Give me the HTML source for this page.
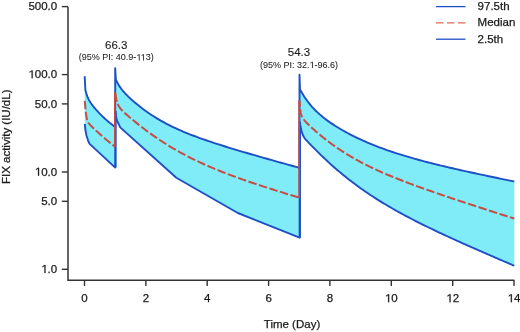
<!DOCTYPE html>
<html><head><meta charset="utf-8"><style>
html,body{margin:0;padding:0;background:#fff;}
body{width:520px;height:332px;overflow:hidden;}
svg{display:block;will-change:transform;}
text{font-family:"Liberation Sans",sans-serif;font-size:11.5px;fill:#1a1a1a;stroke:#1a1a1a;stroke-width:0.25px;}
.o{fill:transparent;stroke:none;}
</style></head><body>
<svg width="520" height="332" viewBox="0 0 520 332">
<rect width="520" height="332" fill="#fff"/>
<polygon points="84.70,76.20 85.40,89.99 85.70,91.21 86.00,92.33 86.30,93.36 86.60,94.31 86.90,95.20 87.20,96.02 87.50,96.79 87.80,97.51 88.10,98.18 88.40,98.82 88.70,99.42 89.70,101.24 90.70,102.83 91.70,104.27 92.70,105.61 93.70,106.87 94.70,108.08 95.70,109.25 96.70,110.38 97.70,111.47 98.70,112.54 99.70,113.58 100.70,114.60 101.70,115.60 102.70,116.57 103.70,117.52 104.70,118.45 105.70,119.36 108.20,121.54 110.70,123.61 113.20,125.56 115.20,127.06 115.20,167.60 89.60,143.90 88.40,141.50 86.60,136.00 85.40,130.00 84.80,124.00" fill="#7fecf8" stroke="none"/><polygon points="115.20,68.10 115.80,79.16 116.10,79.87 116.40,80.55 116.70,81.21 117.00,81.83 117.30,82.44 117.60,83.02 117.90,83.58 118.20,84.12 118.50,84.64 118.80,85.14 119.10,85.63 120.10,87.15 121.10,88.55 122.10,89.84 123.10,91.05 124.10,92.20 125.10,93.30 126.10,94.35 127.10,95.37 128.10,96.36 129.10,97.33 130.10,98.27 131.10,99.19 132.10,100.09 133.10,100.98 134.10,101.85 135.10,102.71 136.10,103.55 138.60,105.59 141.10,107.56 143.60,109.45 146.10,111.27 148.60,113.01 151.10,114.69 153.60,116.31 156.10,117.87 158.60,119.37 161.10,120.81 163.60,122.20 166.10,123.54 168.60,124.83 171.10,126.08 173.60,127.29 176.10,128.46 178.60,129.59 181.10,130.69 183.60,131.76 186.10,132.80 188.60,133.81 191.10,134.80 193.60,135.76 196.10,136.70 198.60,137.62 201.10,138.52 203.60,139.40 206.10,140.27 208.60,141.12 211.10,141.96 213.60,142.79 216.10,143.61 218.60,144.41 221.10,145.21 223.60,145.99 226.10,146.77 228.60,147.54 231.10,148.31 233.60,149.06 236.10,149.81 238.60,150.56 241.10,151.30 243.60,152.04 246.10,152.77 248.60,153.50 251.10,154.22 253.60,154.95 256.10,155.66 258.60,156.38 261.10,157.10 263.60,157.81 266.10,158.52 268.60,159.22 271.10,159.93 273.60,160.63 276.10,161.34 278.60,162.04 281.10,162.74 283.60,163.44 286.10,164.14 288.60,164.83 291.10,165.53 293.60,166.23 296.10,166.92 298.60,167.62 299.50,167.86 299.60,237.70 237.80,213.00 176.30,177.80 120.20,127.40 117.20,120.80 116.50,118.80 115.80,115.50 115.20,111.00" fill="#7fecf8" stroke="none"/><polygon points="299.50,74.80 300.00,89.30 300.30,89.85 300.60,90.40 300.90,90.94 301.20,91.48 301.50,92.01 301.80,92.53 302.10,93.04 302.40,93.55 302.70,94.05 303.00,94.54 304.00,96.14 305.00,97.67 306.00,99.13 307.00,100.54 308.00,101.88 309.00,103.17 310.00,104.42 311.00,105.61 312.00,106.76 313.00,107.87 314.00,108.93 315.00,109.97 316.00,110.96 317.00,111.93 318.00,112.87 319.00,113.78 320.00,114.66 322.50,116.77 325.00,118.75 327.50,120.62 330.00,122.40 332.50,124.09 335.00,125.72 337.50,127.28 340.00,128.78 342.50,130.23 345.00,131.64 347.50,133.00 350.00,134.32 352.50,135.59 355.00,136.84 357.50,138.04 360.00,139.22 362.50,140.36 365.00,141.47 367.50,142.55 370.00,143.60 372.50,144.63 375.00,145.63 377.50,146.60 380.00,147.55 382.50,148.48 385.00,149.38 387.50,150.27 390.00,151.13 392.50,151.98 395.00,152.81 397.50,153.62 400.00,154.41 402.50,155.18 405.00,155.94 407.50,156.69 410.00,157.42 412.50,158.14 415.00,158.85 417.50,159.54 420.00,160.23 422.50,160.90 425.00,161.56 427.50,162.21 430.00,162.85 432.50,163.49 435.00,164.11 437.50,164.73 440.00,165.34 442.50,165.95 445.00,166.54 447.50,167.13 450.00,167.72 452.50,168.30 455.00,168.87 457.50,169.44 460.00,170.01 462.50,170.56 465.00,171.12 467.50,171.67 470.00,172.22 472.50,172.76 475.00,173.30 477.50,173.84 480.00,174.38 482.50,174.91 485.00,175.44 487.50,175.96 490.00,176.49 492.50,177.01 495.00,177.53 497.50,178.05 500.00,178.56 502.50,179.08 505.00,179.59 507.50,180.10 510.00,180.61 512.50,181.12 514.30,181.49 514.30,265.75 513.20,265.28 511.20,264.43 509.20,263.57 507.20,262.72 505.20,261.86 503.20,261.00 501.20,260.14 499.20,259.28 497.20,258.42 495.20,257.55 493.20,256.69 491.20,255.82 489.20,254.96 487.20,254.09 485.20,253.22 483.20,252.35 481.20,251.47 479.20,250.60 477.20,249.72 475.20,248.84 473.20,247.96 471.20,247.07 469.20,246.19 467.20,245.30 465.20,244.41 463.20,243.51 461.20,242.62 459.20,241.72 457.20,240.82 455.20,239.91 453.20,239.00 451.20,238.09 449.20,237.17 447.20,236.25 445.20,235.32 443.20,234.39 441.20,233.46 439.20,232.52 437.20,231.58 435.20,230.63 433.20,229.67 431.20,228.71 429.20,227.75 427.20,226.77 425.20,225.80 423.20,224.81 421.20,223.82 419.20,222.82 417.20,221.81 415.20,220.79 413.20,219.76 411.20,218.73 409.20,217.69 407.20,216.63 405.20,215.57 403.20,214.49 401.20,213.41 399.20,212.31 397.20,211.21 395.20,210.08 393.20,208.95 391.20,207.80 389.20,206.64 387.20,205.47 385.20,204.28 383.20,203.08 381.20,201.85 379.20,200.62 377.20,199.36 375.20,198.09 373.20,196.80 371.20,195.50 369.20,194.17 367.20,192.82 365.20,191.46 363.20,190.07 361.20,188.66 359.20,187.23 357.20,185.78 355.20,184.30 353.20,182.80 351.20,181.28 349.20,179.74 347.20,178.17 345.20,176.57 343.20,174.95 341.20,173.30 339.20,171.63 337.20,169.93 335.20,168.21 333.20,166.45 331.20,164.67 329.20,162.87 327.20,161.03 325.20,159.17 323.20,157.28 321.20,155.36 319.20,153.42 317.20,151.45 315.20,149.45 313.20,147.42 311.20,145.37 309.20,143.29 307.20,141.18 305.20,139.04 304.20,137.60 303.00,135.30 301.60,131.70 300.40,125.70 299.60,122.00" fill="#7fecf8" stroke="none"/>
<polyline points="84.70,76.20 85.40,89.99 85.70,91.21 86.00,92.33 86.30,93.36 86.60,94.31 86.90,95.20 87.20,96.02 87.50,96.79 87.80,97.51 88.10,98.18 88.40,98.82 88.70,99.42 89.70,101.24 90.70,102.83 91.70,104.27 92.70,105.61 93.70,106.87 94.70,108.08 95.70,109.25 96.70,110.38 97.70,111.47 98.70,112.54 99.70,113.58 100.70,114.60 101.70,115.60 102.70,116.57 103.70,117.52 104.70,118.45 105.70,119.36 108.20,121.54 110.70,123.61 113.20,125.56 115.20,127.06 115.20,68.10 115.80,79.16 116.10,79.87 116.40,80.55 116.70,81.21 117.00,81.83 117.30,82.44 117.60,83.02 117.90,83.58 118.20,84.12 118.50,84.64 118.80,85.14 119.10,85.63 120.10,87.15 121.10,88.55 122.10,89.84 123.10,91.05 124.10,92.20 125.10,93.30 126.10,94.35 127.10,95.37 128.10,96.36 129.10,97.33 130.10,98.27 131.10,99.19 132.10,100.09 133.10,100.98 134.10,101.85 135.10,102.71 136.10,103.55 138.60,105.59 141.10,107.56 143.60,109.45 146.10,111.27 148.60,113.01 151.10,114.69 153.60,116.31 156.10,117.87 158.60,119.37 161.10,120.81 163.60,122.20 166.10,123.54 168.60,124.83 171.10,126.08 173.60,127.29 176.10,128.46 178.60,129.59 181.10,130.69 183.60,131.76 186.10,132.80 188.60,133.81 191.10,134.80 193.60,135.76 196.10,136.70 198.60,137.62 201.10,138.52 203.60,139.40 206.10,140.27 208.60,141.12 211.10,141.96 213.60,142.79 216.10,143.61 218.60,144.41 221.10,145.21 223.60,145.99 226.10,146.77 228.60,147.54 231.10,148.31 233.60,149.06 236.10,149.81 238.60,150.56 241.10,151.30 243.60,152.04 246.10,152.77 248.60,153.50 251.10,154.22 253.60,154.95 256.10,155.66 258.60,156.38 261.10,157.10 263.60,157.81 266.10,158.52 268.60,159.22 271.10,159.93 273.60,160.63 276.10,161.34 278.60,162.04 281.10,162.74 283.60,163.44 286.10,164.14 288.60,164.83 291.10,165.53 293.60,166.23 296.10,166.92 298.60,167.62 299.50,167.86 299.50,74.80 300.00,89.30 300.30,89.85 300.60,90.40 300.90,90.94 301.20,91.48 301.50,92.01 301.80,92.53 302.10,93.04 302.40,93.55 302.70,94.05 303.00,94.54 304.00,96.14 305.00,97.67 306.00,99.13 307.00,100.54 308.00,101.88 309.00,103.17 310.00,104.42 311.00,105.61 312.00,106.76 313.00,107.87 314.00,108.93 315.00,109.97 316.00,110.96 317.00,111.93 318.00,112.87 319.00,113.78 320.00,114.66 322.50,116.77 325.00,118.75 327.50,120.62 330.00,122.40 332.50,124.09 335.00,125.72 337.50,127.28 340.00,128.78 342.50,130.23 345.00,131.64 347.50,133.00 350.00,134.32 352.50,135.59 355.00,136.84 357.50,138.04 360.00,139.22 362.50,140.36 365.00,141.47 367.50,142.55 370.00,143.60 372.50,144.63 375.00,145.63 377.50,146.60 380.00,147.55 382.50,148.48 385.00,149.38 387.50,150.27 390.00,151.13 392.50,151.98 395.00,152.81 397.50,153.62 400.00,154.41 402.50,155.18 405.00,155.94 407.50,156.69 410.00,157.42 412.50,158.14 415.00,158.85 417.50,159.54 420.00,160.23 422.50,160.90 425.00,161.56 427.50,162.21 430.00,162.85 432.50,163.49 435.00,164.11 437.50,164.73 440.00,165.34 442.50,165.95 445.00,166.54 447.50,167.13 450.00,167.72 452.50,168.30 455.00,168.87 457.50,169.44 460.00,170.01 462.50,170.56 465.00,171.12 467.50,171.67 470.00,172.22 472.50,172.76 475.00,173.30 477.50,173.84 480.00,174.38 482.50,174.91 485.00,175.44 487.50,175.96 490.00,176.49 492.50,177.01 495.00,177.53 497.50,178.05 500.00,178.56 502.50,179.08 505.00,179.59 507.50,180.10 510.00,180.61 512.50,181.12 514.30,181.49" fill="none" stroke="#1f4fc4" stroke-width="1.9" stroke-linejoin="round"/>
<polyline points="84.80,124.00 85.40,130.00 86.60,136.00 88.40,141.50 89.60,143.90 115.20,167.60 115.20,111.00 115.80,115.50 116.50,118.80 117.20,120.80 120.20,127.40 176.30,177.80 237.80,213.00 299.60,237.70 299.60,122.00 300.40,125.70 301.60,131.70 303.00,135.30 304.20,137.60 305.20,139.04 307.20,141.18 309.20,143.29 311.20,145.37 313.20,147.42 315.20,149.45 317.20,151.45 319.20,153.42 321.20,155.36 323.20,157.28 325.20,159.17 327.20,161.03 329.20,162.87 331.20,164.67 333.20,166.45 335.20,168.21 337.20,169.93 339.20,171.63 341.20,173.30 343.20,174.95 345.20,176.57 347.20,178.17 349.20,179.74 351.20,181.28 353.20,182.80 355.20,184.30 357.20,185.78 359.20,187.23 361.20,188.66 363.20,190.07 365.20,191.46 367.20,192.82 369.20,194.17 371.20,195.50 373.20,196.80 375.20,198.09 377.20,199.36 379.20,200.62 381.20,201.85 383.20,203.08 385.20,204.28 387.20,205.47 389.20,206.64 391.20,207.80 393.20,208.95 395.20,210.08 397.20,211.21 399.20,212.31 401.20,213.41 403.20,214.49 405.20,215.57 407.20,216.63 409.20,217.69 411.20,218.73 413.20,219.76 415.20,220.79 417.20,221.81 419.20,222.82 421.20,223.82 423.20,224.81 425.20,225.80 427.20,226.77 429.20,227.75 431.20,228.71 433.20,229.67 435.20,230.63 437.20,231.58 439.20,232.52 441.20,233.46 443.20,234.39 445.20,235.32 447.20,236.25 449.20,237.17 451.20,238.09 453.20,239.00 455.20,239.91 457.20,240.82 459.20,241.72 461.20,242.62 463.20,243.51 465.20,244.41 467.20,245.30 469.20,246.19 471.20,247.07 473.20,247.96 475.20,248.84 477.20,249.72 479.20,250.60 481.20,251.47 483.20,252.35 485.20,253.22 487.20,254.09 489.20,254.96 491.20,255.82 493.20,256.69 495.20,257.55 497.20,258.42 499.20,259.28 501.20,260.14 503.20,261.00 505.20,261.86 507.20,262.72 509.20,263.57 511.20,264.43 513.20,265.28 514.30,265.75" fill="none" stroke="#1f4fc4" stroke-width="1.9" stroke-linejoin="round"/>
<line x1="115.9" y1="167.6" x2="115.9" y2="111" stroke="#1f4fc4" stroke-width="1.4"/>
<line x1="300.2" y1="237.7" x2="300.2" y2="122" stroke="#1f4fc4" stroke-width="1.4"/>
<line x1="114.8" y1="146.86" x2="114.8" y2="92.1" stroke="#c44e43" stroke-width="1.6"/>
<line x1="299.1" y1="197.65" x2="299.1" y2="100.5" stroke="#c44e43" stroke-width="1.6"/>
<polyline points="84.80,100.80 85.40,107.86 85.70,111.02 86.00,113.60 86.30,115.67 86.60,117.35 86.90,118.71 87.20,119.81 87.50,120.72 87.80,121.47 88.10,122.11 88.40,122.67 88.70,123.15 89.70,124.48 90.70,125.57 91.70,126.56 92.70,127.52 93.70,128.46 94.70,129.39 95.70,130.31 96.70,131.22 97.70,132.13 98.70,133.03 99.70,133.92 100.70,134.81 101.70,135.69 102.70,136.56 103.70,137.43 104.70,138.29 105.70,139.14 108.20,141.24 110.70,143.29 113.20,145.29 115.20,146.86" fill="none" stroke="#c44e43" stroke-width="2" stroke-dasharray="8.5 2.5"/>
<polyline points="115.20,92.10 115.50,94.98 115.80,96.63 116.10,98.10 116.40,99.41 116.70,100.58 117.00,101.62 117.30,102.56 117.60,103.40 117.90,104.16 118.20,104.84 118.50,105.47 119.50,107.21 120.50,108.60 121.50,109.77 122.50,110.83 123.50,111.81 124.50,112.74 125.50,113.65 126.50,114.54 127.50,115.42 128.50,116.28 129.50,117.14 130.50,117.99 131.50,118.83 132.50,119.67 133.50,120.50 134.50,121.32 135.50,122.14 138.00,124.15 140.50,126.12 143.00,128.06 145.50,129.95 148.00,131.81 150.50,133.62 153.00,135.40 155.50,137.14 158.00,138.84 160.50,140.50 163.00,142.13 165.50,143.72 168.00,145.27 170.50,146.79 173.00,148.28 175.50,149.73 178.00,151.15 180.50,152.54 183.00,153.90 185.50,155.22 188.00,156.52 190.50,157.80 193.00,159.04 195.50,160.26 198.00,161.45 200.50,162.62 203.00,163.76 205.50,164.89 208.00,165.99 210.50,167.07 213.00,168.13 215.50,169.17 218.00,170.20 220.50,171.21 223.00,172.20 225.50,173.17 228.00,174.13 230.50,175.08 233.00,176.01 235.50,176.93 238.00,177.84 240.50,178.73 243.00,179.62 245.50,180.49 248.00,181.36 250.50,182.21 253.00,183.06 255.50,183.90 258.00,184.73 260.50,185.55 263.00,186.36 265.50,187.17 268.00,187.97 270.50,188.77 273.00,189.56 275.50,190.34 278.00,191.12 280.50,191.89 283.00,192.66 285.50,193.43 288.00,194.19 290.50,194.95 293.00,195.70 295.50,196.45 298.00,197.20 299.50,197.65" fill="none" stroke="#c44e43" stroke-width="2" stroke-dasharray="8.5 2.5" stroke-dashoffset="9.8"/>
<polyline points="299.50,100.50 300.60,112.70 300.90,113.65 301.20,114.51 301.50,115.29 301.80,115.99 302.10,116.63 302.40,117.22 302.70,117.77 303.00,118.28 303.30,118.75 303.60,119.20 304.60,120.53 305.60,121.70 306.60,122.77 307.60,123.78 308.60,124.76 309.60,125.72 310.60,126.65 311.60,127.57 312.60,128.48 313.60,129.37 314.60,130.26 315.60,131.14 316.60,132.01 317.60,132.86 318.60,133.71 319.60,134.55 320.60,135.38 323.10,137.42 325.60,139.40 328.10,141.32 330.60,143.20 333.10,145.02 335.60,146.78 338.10,148.50 340.60,150.17 343.10,151.80 345.60,153.38 348.10,154.92 350.60,156.41 353.10,157.87 355.60,159.28 358.10,160.66 360.60,162.01 363.10,163.32 365.60,164.60 368.10,165.86 370.60,167.08 373.10,168.27 375.60,169.45 378.10,170.59 380.60,171.72 383.10,172.82 385.60,173.90 388.10,174.96 390.60,176.01 393.10,177.04 395.60,178.05 398.10,179.05 400.60,180.03 403.10,181.00 405.60,181.96 408.10,182.91 410.60,183.85 413.10,184.78 415.60,185.69 418.10,186.60 420.60,187.51 423.10,188.40 425.60,189.29 428.10,190.17 430.60,191.04 433.10,191.91 435.60,192.77 438.10,193.63 440.60,194.49 443.10,195.34 445.60,196.18 448.10,197.02 450.60,197.86 453.10,198.70 455.60,199.53 458.10,200.36 460.60,201.19 463.10,202.01 465.60,202.84 468.10,203.66 470.60,204.48 473.10,205.29 475.60,206.11 478.10,206.92 480.60,207.73 483.10,208.54 485.60,209.35 488.10,210.16 490.60,210.97 493.10,211.78 495.60,212.58 498.10,213.39 500.60,214.19 503.10,215.00 505.60,215.80 508.10,216.60 510.60,217.40 513.10,218.20 514.30,218.59" fill="none" stroke="#c44e43" stroke-width="2" stroke-dasharray="8.5 2.5" stroke-dashoffset="2.5"/>
<path d="M68,6.7 V280.2 H514.4" fill="none" stroke="#333333" stroke-width="1.5"/>
<line x1="61.8" y1="6.6" x2="68" y2="6.6" stroke="#333333" stroke-width="1.4"/><text x="57.2" y="9.7" text-anchor="end">500.0</text><line x1="61.8" y1="74.6" x2="68" y2="74.6" stroke="#333333" stroke-width="1.4"/><text x="57.2" y="78.3" text-anchor="end"><tspan class="o">1</tspan>00.0</text><line x1="61.8" y1="103.9" x2="68" y2="103.9" stroke="#333333" stroke-width="1.4"/><text x="57.2" y="107.6" text-anchor="end">50.0</text><line x1="61.8" y1="172.0" x2="68" y2="172.0" stroke="#333333" stroke-width="1.4"/><text x="57.2" y="175.7" text-anchor="end"><tspan class="o">1</tspan>0.0</text><line x1="61.8" y1="201.3" x2="68" y2="201.3" stroke="#333333" stroke-width="1.4"/><text x="57.2" y="205.0" text-anchor="end">5.0</text><line x1="61.8" y1="269.3" x2="68" y2="269.3" stroke="#333333" stroke-width="1.4"/><text x="57.2" y="273.0" text-anchor="end"><tspan class="o">1</tspan>.0</text>
<line x1="84.5" y1="280.2" x2="84.5" y2="286" stroke="#333333" stroke-width="1.4"/><text x="84.5" y="302.2" text-anchor="middle">0</text><line x1="145.9" y1="280.2" x2="145.9" y2="286" stroke="#333333" stroke-width="1.4"/><text x="145.9" y="302.2" text-anchor="middle">2</text><line x1="207.2" y1="280.2" x2="207.2" y2="286" stroke="#333333" stroke-width="1.4"/><text x="207.2" y="302.2" text-anchor="middle">4</text><line x1="268.6" y1="280.2" x2="268.6" y2="286" stroke="#333333" stroke-width="1.4"/><text x="268.6" y="302.2" text-anchor="middle">6</text><line x1="329.9" y1="280.2" x2="329.9" y2="286" stroke="#333333" stroke-width="1.4"/><text x="329.9" y="302.2" text-anchor="middle">8</text><line x1="391.3" y1="280.2" x2="391.3" y2="286" stroke="#333333" stroke-width="1.4"/><text x="391.3" y="302.2" text-anchor="middle"><tspan class="o">1</tspan>0</text><line x1="452.7" y1="280.2" x2="452.7" y2="286" stroke="#333333" stroke-width="1.4"/><text x="452.7" y="302.2" text-anchor="middle"><tspan class="o">1</tspan>2</text><line x1="514.0" y1="280.2" x2="514.0" y2="286" stroke="#333333" stroke-width="1.4"/><text x="514.0" y="302.2" text-anchor="middle"><tspan class="o">1</tspan>4</text>
<text x="292" y="327.9" text-anchor="middle">Time (Day)</text>
<text transform="translate(9.8,136.8) rotate(-90)" text-anchor="middle">FIX activity (IU/dL)</text>
<text x="116.2" y="49.2" text-anchor="middle" style="stroke-width:0.1px">66.3</text>
<text x="116.2" y="60.4" text-anchor="middle" style="font-size:9px;stroke-width:0.05px">(95% PI: 40.9-<tspan class="o">1</tspan><tspan class="o">1</tspan>3)</text>
<text x="299" y="56.3" text-anchor="middle" style="stroke-width:0.1px">54.3</text>
<text x="299" y="68" text-anchor="middle" style="font-size:9px;stroke-width:0.05px">(95% PI: 32.<tspan class="o">1</tspan>-96.6)</text>
<line x1="436" y1="6.6" x2="465.5" y2="6.6" stroke="#1f4fc4" stroke-width="1.3"/>
<line x1="436" y1="22.8" x2="465.5" y2="22.8" stroke="#e06a58" stroke-width="1.3" stroke-dasharray="7.5 3.5"/>
<line x1="436" y1="39.2" x2="465.5" y2="39.2" stroke="#1f4fc4" stroke-width="1.3"/>
<text x="477.6" y="9.6">97.5th</text>
<text x="477.6" y="25.9">Median</text>
<text x="477.6" y="43.1">2.5th</text>
<g class="ones" fill="#1a1a1a" stroke="#1a1a1a"><polygon points="31.64,78.30 31.64,71.35 29.68,72.63 29.68,71.67 31.73,70.39 32.66,70.39 32.66,78.30" style="stroke-width:0.25px"/><polygon points="38.03,175.70 38.03,168.75 36.07,170.03 36.07,169.07 38.12,167.79 39.05,167.79 39.05,175.70" style="stroke-width:0.25px"/><polygon points="44.44,273.00 44.44,266.05 42.47,267.33 42.47,266.37 44.52,265.09 45.46,265.09 45.46,273.00" style="stroke-width:0.25px"/><polygon points="388.13,302.20 388.13,295.25 386.17,296.53 386.17,295.57 388.22,294.29 389.15,294.29 389.15,302.20" style="stroke-width:0.25px"/><polygon points="449.53,302.20 449.53,295.25 447.57,296.53 447.57,295.57 449.62,294.29 450.55,294.29 450.55,302.20" style="stroke-width:0.25px"/><polygon points="510.83,302.20 510.83,295.25 508.87,296.53 508.87,295.57 510.92,294.29 511.85,294.29 511.85,302.20" style="stroke-width:0.25px"/><polygon points="138.81,60.40 138.81,54.96 137.28,55.96 137.28,55.21 138.88,54.21 139.61,54.21 139.61,60.40" style="stroke-width:0.05px"/><polygon points="143.16,60.40 143.16,54.96 141.62,55.96 141.62,55.21 143.22,54.21 143.95,54.21 143.95,60.40" style="stroke-width:0.05px"/><polygon points="312.04,68.00 312.04,62.56 310.50,63.56 310.50,62.81 312.10,61.81 312.83,61.81 312.83,68.00" style="stroke-width:0.05px"/></g>
</svg>
</body></html>
